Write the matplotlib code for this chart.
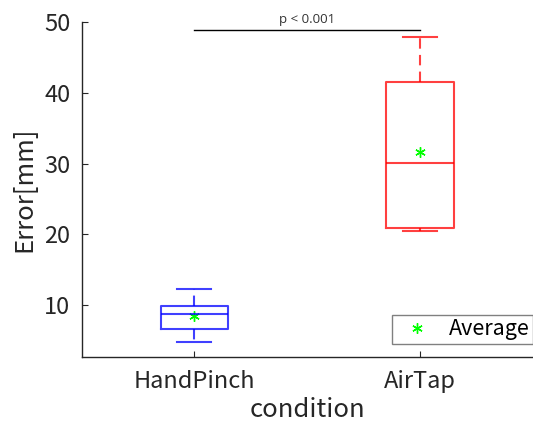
import matplotlib
matplotlib.use("Agg")
import matplotlib.pyplot as plt

conditions = ["HandPinch", "AirTap"]
whisker_low = [4.77, 20.47]
q1 = [6.56, 20.85]
median = [8.68, 30.08]
q3 = [9.76, 41.5]
whisker_high = [12.26, 47.95]
means = [8.35, 31.6]
box_colors = ["#0000ff", "#ff0000"]
p_text = "p < 0.001"
p_level = 48.9

plt.rcParams['font.family'] = ['Noto Sans CJK JP', 'DejaVu Sans']

fig = plt.figure(figsize=(5.33, 4.23), dpi=100)
ax = fig.add_axes([0.153, 0.156, 0.847, 0.791])

stats = []
for i, name in enumerate(conditions):
    stats.append({
        "label": name,
        "whislo": whisker_low[i],
        "q1": q1[i],
        "med": median[i],
        "q3": q3[i],
        "whishi": whisker_high[i],
        "fliers": [],
    })

positions = [1, 2]
for i, s in enumerate(stats):
    c = box_colors[i]
    ax.bxp([s], positions=[positions[i]], widths=0.3, capwidths=0.15,
           showfliers=False, patch_artist=False,
           boxprops=dict(color=c, lw=1.5, alpha=0.75),
           medianprops=dict(color=c, lw=1.5, alpha=0.75),
           whiskerprops=dict(color=c, lw=1.5, alpha=0.75, linestyle=(0, (5, 3))),
           capprops=dict(color=c, lw=1.5, alpha=0.75))

# green asterisk like MATLAB '*'
ax.plot(positions, means, linestyle="none", marker=(6, 2, 0), color="#00ff00",
        markersize=7.5, markeredgewidth=1.0, label="Average")

# significance bar
ax.plot(positions, [p_level, p_level], color="black", lw=1)
ax.text(sum(positions) / 2, p_level + 0.6, p_text, ha="center", va="bottom",
        fontsize=9.5, color="#333333", family="Open Sans")

ax.set_xlim(0.5, 2.5)
ax.set_ylim(2.6, 50)
ax.set_yticks([10, 20, 30, 40, 50])
ax.set_xticks(positions)
ax.set_xticklabels(conditions)

ax.spines["top"].set_visible(False)
ax.spines["right"].set_visible(False)
for sp in ("left", "bottom"):
    ax.spines[sp].set_color("#262626")
    ax.spines[sp].set_linewidth(1)
ax.tick_params(direction="in", length=4, colors="#262626", labelsize=17)
ax.tick_params(axis="x", pad=9)
ax.tick_params(axis="y", pad=8)

ax.set_xlabel("condition", fontsize=18.5, color="#262626", labelpad=3)
ax.set_ylabel("Error[mm]", fontsize=18.5, color="#262626", labelpad=5)

leg = ax.legend(loc="lower right", bbox_to_anchor=(1.0, 0.04), borderaxespad=0,
                fancybox=False, edgecolor="#808080", framealpha=1, fontsize=15.5,
                handlelength=2.0, handletextpad=0.5, borderpad=0.15)
leg.get_frame().set_linewidth(1)

fig.savefig("out.png", dpi=100)
